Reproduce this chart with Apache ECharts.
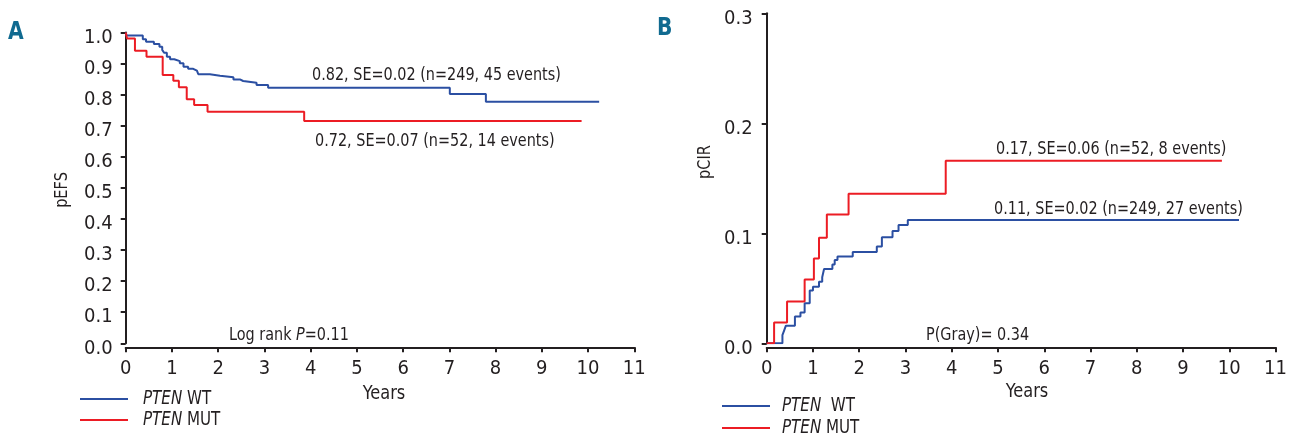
<!DOCTYPE html>
<html>
<head>
<meta charset="utf-8">
<script src="https://cdn.jsdelivr.net/npm/echarts@6/dist/echarts.min.js"></script>
<style>
  html, body { margin: 0; padding: 0; background: #fff; }
  #chart { width: 1290px; height: 435px; }
</style>
</head>
<body>
<div id="chart"></div>
<script>
const FONT = "'Liberation Sans Narrow', 'DejaVu Sans Condensed', sans-serif"
const INK = '#231f20'
const BLUE = '#2b4fa2'
const RED = '#ec1c24'
const PANEL = '#106a90'

// A: event-free survival, step points (years, pEFS)
const efsWtTime = [0, 0.02, 0.37, 0.44, 0.61, 0.73, 0.79, 0.83, 0.89, 0.96, 1.05, 1.17, 1.25, 1.35, 1.46, 1.54, 1.57, 1.82, 2.04, 2.33, 2.47, 2.54, 2.83, 3.08, 7.01, 7.79, 10.24]
const efsWtSurv = [1, 0.990, 0.978, 0.970, 0.963, 0.954, 0.944, 0.935, 0.922, 0.914, 0.908, 0.901, 0.890, 0.883, 0.877, 0.871, 0.866, 0.861, 0.856, 0.849, 0.844, 0.838, 0.831, 0.822, 0.802, 0.777, 0.777]
const efsMutTime = [0, 0.03, 0.20, 0.45, 0.80, 1.03, 1.15, 1.32, 1.48, 1.77, 3.86, 9.86]
const efsMutSurv = [1, 0.981, 0.941, 0.922, 0.863, 0.845, 0.824, 0.785, 0.767, 0.745, 0.715, 0.715]

// B: cumulative incidence of relapse, step points (years, pCIR)
const cirWtTime = [0, 0.34, 0.38, 0.415, 0.61, 0.73, 0.82, 0.93, 1.00, 1.13, 1.20, 1.24, 1.42, 1.47, 1.53, 1.86, 2.38, 2.49, 2.72, 2.85, 3.05, 10.21]
const cirWtInc = [0, 0.0075, 0.012, 0.016, 0.0243, 0.028, 0.0364, 0.048, 0.0515, 0.056, 0.060, 0.0675, 0.0716, 0.0757, 0.079, 0.083, 0.088, 0.0964, 0.102, 0.1075, 0.112, 0.112]
const cirMutTime = [0, 0.16, 0.44, 0.82, 1.02, 1.13, 1.30, 1.77, 3.87, 9.84]
const cirMutInc = [0, 0.019, 0.038, 0.058, 0.077, 0.096, 0.117, 0.136, 0.166, 0.166]

const yearTicks = [0, 1, 2, 3, 4, 5, 6, 7, 8, 9, 10, 11]

const groupNames = ['WT', 'MUT']
const efsNotes = ['0.82, SE=0.02 (n=249, 45 events)', '0.72, SE=0.07 (n=52, 14 events)']
const cirNotes = ['0.11, SE=0.02 (n=249, 27 events)', '0.17, SE=0.06 (n=52, 8 events)']

function steps(t, v) {
  return t.map((x, i) => [x, v[i]])
}

function xAxisFor(gridIndex) {
  return {
    gridIndex,
    type: 'value',
    min: yearTicks[0],
    max: yearTicks[yearTicks.length - 1],
    interval: 1,
    position: 'bottom',
    offset: 4,
    axisLine: { onZero: false, lineStyle: { color: INK, width: 2 } },
    axisTick: { length: 5, lineStyle: { color: INK, width: 2 } },
    axisLabel: { color: INK, fontFamily: FONT, fontSize: 20, margin: 11 },
    splitLine: { show: false }
  }
}

function yAxisFor(gridIndex, max, offset) {
  return {
    gridIndex,
    type: 'value',
    min: 0,
    max,
    interval: 0.1,
    offset,
    axisLine: { show: true, lineStyle: { color: INK, width: 2 } },
    axisTick: { show: true, length: 5, lineStyle: { color: INK, width: 2 } },
    axisLabel: {
      color: INK, fontFamily: FONT, fontSize: 20, margin: 10,
      // labels sit a little below their ticks in the original
      verticalAlign: 'top',
      lineHeight: 10,
      formatter: v => v.toFixed(1)
    },
    splitLine: { show: false }
  }
}

function stepSeries(name, data, color, idx) {
  return {
    name,
    type: 'line',
    step: 'end',
    xAxisIndex: idx,
    yAxisIndex: idx,
    data,
    symbol: 'none',
    lineStyle: { color, width: 2 },
    animation: false
  }
}

// condensed look: squeeze the text horizontally
function txt(x, y, text, size, sx, extra) {
  return {
    type: 'text',
    x, y,
    scaleX: sx,
    style: Object.assign({
      text,
      fill: INK,
      fontFamily: FONT,
      fontSize: size,
      textVerticalAlign: 'middle'
    }, extra || {})
  }
}

function richTxt(x, y, text, size, sx) {
  return txt(x, y, text, size, sx, {
    rich: {
      i: { fontFamily: FONT, fontSize: size, fontStyle: 'italic', fill: INK },
      n: { fontFamily: FONT, fontSize: size, fill: INK }
    }
  })
}

function legendLine(x1, x2, y, color) {
  return {
    type: 'line',
    shape: { x1, y1: y, x2, y2: y },
    style: { stroke: color, lineWidth: 2 }
  }
}

const chart = echarts.init(document.getElementById('chart'))

chart.setOption({
  backgroundColor: '#fff',
  animation: false,
  grid: [
    { left: 125.7, right: 655.7, top: 32.5, bottom: 91.7, containLabel: false },
    { left: 766.7, right: 11.7, top: 13.3, bottom: 91.7, containLabel: false }
  ],
  xAxis: [xAxisFor(0), xAxisFor(1)],
  yAxis: [yAxisFor(0, 1, 3), yAxisFor(1, 0.3, 4)],
  series: [
    stepSeries('PTEN ' + groupNames[0], steps(efsWtTime, efsWtSurv), BLUE, 0),
    stepSeries('PTEN ' + groupNames[1], steps(efsMutTime, efsMutSurv), RED, 0),
    stepSeries('PTEN ' + groupNames[0], steps(cirWtTime, cirWtInc), BLUE, 1),
    stepSeries('PTEN ' + groupNames[1], steps(cirMutTime, cirMutInc), RED, 1)
  ],
  graphic: [
    // panel A
    txt(8, 32, 'A', 25, 0.9, { fontWeight: 'bold', fill: PANEL }),
    txt(312, 75, efsNotes[0], 18, 0.89),
    txt(315, 141, efsNotes[1], 18, 0.89),
    richTxt(229, 335, '{n|Log rank }{i|P}{n|=0.11}', 18, 0.89),
    txt(384, 394, 'Years', 20, 0.9, { textAlign: 'center' }),
    Object.assign(txt(63, 190, 'pEFS', 17, 0.95, { textAlign: 'center' }), { rotation: Math.PI / 2 }),
    legendLine(80, 128, 399, BLUE),
    legendLine(80, 128, 420, RED),
    richTxt(143, 399, '{i|PTEN}{n| ' + groupNames[0] + '}', 20, 0.84),
    richTxt(143, 420, '{i|PTEN}{n| ' + groupNames[1] + '}', 20, 0.84),
    // panel B
    txt(657, 28, 'B', 25, 0.9, { fontWeight: 'bold', fill: PANEL }),
    Object.assign(txt(706, 162, 'pCIR', 17, 0.95, { textAlign: 'center' }), { rotation: Math.PI / 2 }),
    txt(996, 149, cirNotes[1], 18, 0.89),
    txt(994, 209, cirNotes[0], 18, 0.89),
    txt(926, 335, 'P(Gray)= 0.34', 18, 0.89),
    txt(1027, 392, 'Years', 20, 0.9, { textAlign: 'center' }),
    legendLine(722, 770, 406, BLUE),
    legendLine(722, 770, 428, RED),
    richTxt(782, 406, '{i|PTEN}{n|  ' + groupNames[0] + '}', 20, 0.84),
    richTxt(782, 428, '{i|PTEN}{n| ' + groupNames[1] + '}', 20, 0.84)
  ]
})
</script>
</body>
</html>
